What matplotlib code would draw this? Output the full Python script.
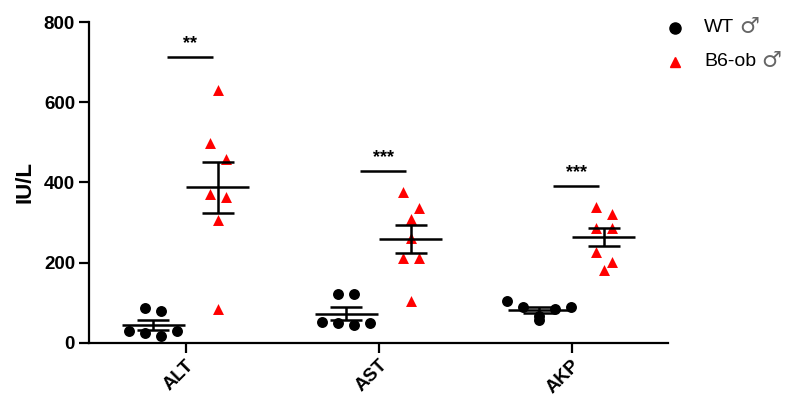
import matplotlib
matplotlib.use('Agg')
import matplotlib.pyplot as plt
import numpy as np
from matplotlib.lines import Line2D

plt.rcParams['font.family'] = ['Liberation Sans', 'DejaVu Sans']

categories = ['ALT', 'AST', 'AKP']
group_names = ['WT', 'B6-ob']
group_symbol = '\u2642'
wt_alt = [87.5, 79, 29, 17.5, 24, 29]
wt_ast = [121, 121, 44, 48.5, 52.5, 48.5]
wt_akp = [90, 84, 103, 90, 67, 57]
ob_alt = [630, 497, 458, 364, 372, 307, 83.5]
ob_ast = [375, 336, 309, 261, 212.5, 212.5, 104]
ob_akp = [337.5, 321, 286, 286, 227.5, 202.5, 182]
sig_labels = ['**', '***', '***']
sig_heights = [712, 428, 392]
yticks = [0, 200, 400, 600, 800]

W, H = 791, 398
fig = plt.figure(figsize=(W / 100, H / 100), dpi=100)
ax_l, ax_b, ax_w, ax_h = 89, 55.3, 579, 320.7
ax = fig.add_axes([ax_l / W, ax_b / H, ax_w / W, ax_h / H])
ax.set_xlim(-0.5, 2.5)
ax.set_ylim(0, 800)
pxx = ax_w / 3.0
pxy = ax_h / 800.0


def swarm(values, step=16.0, row_px=16.0):
    """Row-based scatter layout: points whose heights are within row_px of the
    row's first point share a row and are spread symmetrically
    (highest values placed at the outer ends)."""
    vals = np.asarray(values, float)
    ypx = vals * pxy
    order = list(np.argsort(-vals, kind='stable'))
    dx = np.zeros(len(vals))
    rows, cur = [], [order[0]]
    for a in order[1:]:
        if ypx[cur[0]] - ypx[a] < row_px:
            cur.append(a)
        else:
            rows.append(cur)
            cur = [a]
    rows.append(cur)
    for r in rows:
        n = len(r)
        slots = [(k - (n - 1) / 2.0) * step for k in range(n)]
        # outside-in alternating assignment
        seq = []
        lo, hi = 0, n - 1
        while lo <= hi:
            seq.append(slots[lo])
            if hi != lo:
                seq.append(slots[hi])
            lo += 1
            hi -= 1
        for idx, s in zip(r, seq):
            dx[idx] = s
    return dx / pxx


wt_sets = [wt_alt, wt_ast, wt_akp]
ob_sets = [ob_alt, ob_ast, ob_akp]
off = 0.166
mean_w = 0.165
cap_w = 0.083
lw = 1.8

for i, (wv, ov) in enumerate(zip(wt_sets, ob_sets)):
    for vals, c, mk, sgn in [(wv, 'black', 'o', -1), (ov, 'red', '^', 1)]:
        xc = i + sgn * off
        x = xc + swarm(vals)
        ax.scatter(x, vals, s=62, c=c, marker=mk, linewidths=0, zorder=3, clip_on=False)
        v = np.asarray(vals, float)
        m = v.mean()
        sem = v.std(ddof=1) / np.sqrt(len(v))
        kw = dict(color='black', lw=lw, zorder=4, solid_capstyle='butt')
        ax.plot([xc - mean_w, xc + mean_w], [m, m], **kw)
        ax.plot([xc - cap_w, xc + cap_w], [m + sem, m + sem], **kw)
        ax.plot([xc - cap_w, xc + cap_w], [m - sem, m - sem], **kw)
        ax.plot([xc, xc], [m - sem, m + sem], **kw)

for i, (lab, h) in enumerate(zip(sig_labels, sig_heights)):
    xc = i + 0.025
    ax.plot([xc - 0.12, xc + 0.12], [h, h], color='black', lw=lw,
            solid_capstyle='butt', clip_on=False)
    ax.text(xc, h + 12, lab, ha='center', va='bottom', fontsize=13, fontweight='bold')

ax.spines['top'].set_visible(False)
ax.spines['right'].set_visible(False)
for s in ['left', 'bottom']:
    ax.spines[s].set_linewidth(1.6)
ax.set_yticks(yticks)
ax.set_yticklabels([str(t) for t in yticks], fontsize=13.5, fontweight='bold')
ax.set_xticks(range(len(categories)))
ax.set_xticklabels(categories, fontsize=13.5, fontweight='bold', rotation=45,
                   ha='right', rotation_mode='anchor')
ax.tick_params(axis='both', direction='out', length=7, width=1.6, pad=3)
ax.set_ylabel('IU/L', fontsize=16, fontweight='bold', labelpad=6)

# legend (drawn manually to allow the larger gender symbol)
leg_markers = [dict(marker='o', color='black', markersize=8),
               dict(marker='^', color='red', markersize=7)]
leg_y = [28, 62]
fig.canvas.draw()
for name, mk, y in zip(group_names, leg_markers, leg_y):
    fig.add_artist(Line2D([675 / W], [1 - y / H], ls='none', transform=fig.transFigure, **mk))
    t = fig.text(704 / W, 1 - y / H, name, fontsize=14, va='center', ha='left')
    bb = t.get_window_extent(renderer=fig.canvas.get_renderer())
    fig.text((bb.x1 + 5) / W, 1 - (y - 1) / H, group_symbol, fontsize=16,
             va='center', ha='left', color='#666666',
             family=['DejaVu Sans', 'Noto Sans'])

fig.savefig('out.png', dpi=100)
